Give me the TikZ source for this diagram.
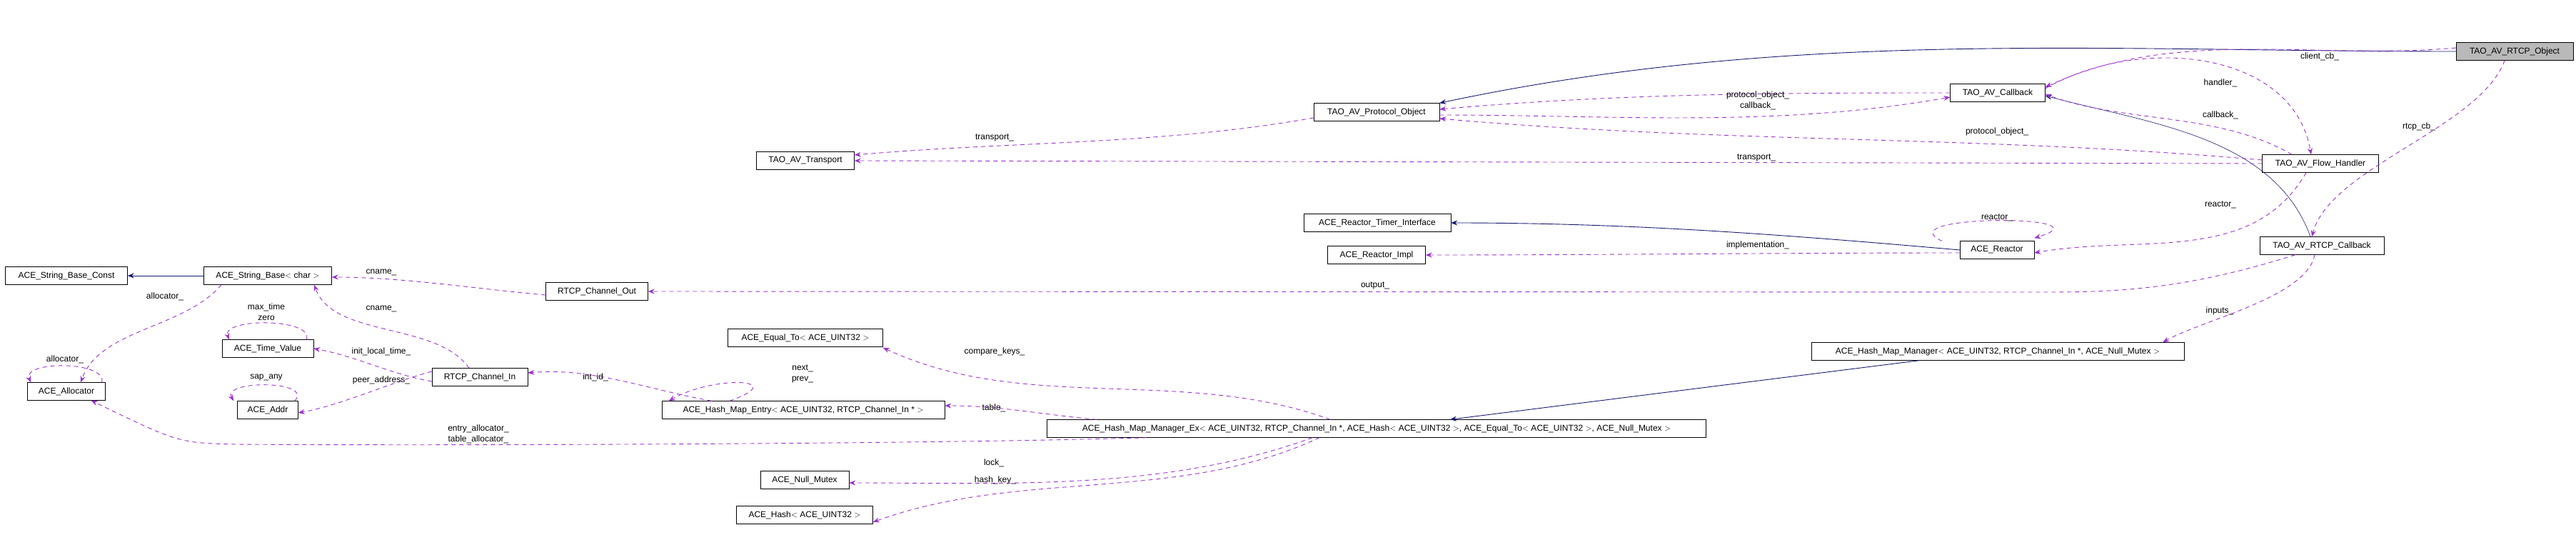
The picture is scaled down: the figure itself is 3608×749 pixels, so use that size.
\documentclass[tikz,border=0pt]{standalone}
\usepackage{fontspec}
\setmainfont{Liberation Sans}
\usetikzlibrary{arrows.meta}
\definecolor{navy}{HTML}{191970}
\definecolor{member}{HTML}{9A32CD}
\begin{document}
\begin{tikzpicture}[x=1pt,y=-1pt,>={Stealth[length=9pt,width=7pt]},
    cls node/.style={draw,rectangle,font=\fontsize{12}{13}\selectfont,inner sep=0pt,minimum height=25pt},
    main node/.style={cls node,fill=gray!55},
    inherit/.style={->,draw=navy,line width=0.9pt},
    use/.style={->,draw=member,line width=0.9pt,dash pattern=on 6pt off 5pt},
    lbl/.style={font=\fontsize{12}{15}\selectfont,inner sep=1pt,align=center}]
  \useasboundingbox (0,0) rectangle (3608,749);
  % classes
  \node[main node,minimum width=164pt] (rtcp) at (3522,72) {TAO\_AV\_RTCP\_Object};
  \node[cls node,minimum width=176pt] (proto) at (1928,157) {TAO\_AV\_Protocol\_Object};
  \node[cls node,minimum width=133pt] (cb) at (2798,130) {TAO\_AV\_Callback};
  \node[cls node,minimum width=137pt] (trans) at (1128,225) {TAO\_AV\_Transport};
  \node[cls node,minimum width=163pt] (fh) at (3250,229) {TAO\_AV\_Flow\_Handler};
  \node[cls node,minimum width=206pt] (timer) at (1929,312) {ACE\_Reactor\_Timer\_Interface};
  \node[cls node,minimum width=137pt] (impl) at (1928,357) {ACE\_Reactor\_Impl};
  \node[cls node,minimum width=104pt] (reactor) at (2797,350) {ACE\_Reactor};
  \node[cls node,minimum width=174pt] (rtcpcb) at (3252,344) {TAO\_AV\_RTCP\_Callback};
  \node[cls node,minimum width=171pt] (sconst) at (93,386) {ACE\_String\_Base\_Const};
  \node[cls node,minimum width=179pt] (sbase) at (375,386) {ACE\_String\_Base$<$ char $>$};
  \node[cls node,minimum width=143pt] (chout) at (836,408) {RTCP\_Channel\_Out};
  \node[cls node,minimum width=128pt] (tv) at (375,488) {ACE\_Time\_Value};
  \node[cls node,minimum width=109pt] (alloc) at (93,548) {ACE\_Allocator};
  \node[cls node,minimum width=85pt] (addr) at (375,574) {ACE\_Addr};
  \node[cls node,minimum width=134pt] (chin) at (672,528) {RTCP\_Channel\_In};
  \node[cls node,minimum width=396pt] (entry) at (1125,574) {ACE\_Hash\_Map\_Entry$<$ ACE\_UINT32, RTCP\_Channel\_In * $>$};
  \node[cls node,minimum width=217pt] (equal) at (1128,473) {ACE\_Equal\_To$<$ ACE\_UINT32 $>$};
  \node[cls node,minimum width=923pt] (hmex) at (1928,600) {ACE\_Hash\_Map\_Manager\_Ex$<$ ACE\_UINT32, RTCP\_Channel\_In *, ACE\_Hash$<$ ACE\_UINT32 $>$, ACE\_Equal\_To$<$ ACE\_UINT32 $>$, ACE\_Null\_Mutex $>$};
  \node[cls node,minimum width=124pt] (mutex) at (1127,672) {ACE\_Null\_Mutex};
  \node[cls node,minimum width=191pt] (hash) at (1127,721) {ACE\_Hash$<$ ACE\_UINT32 $>$};
  \node[cls node,minimum width=522pt] (hm) at (2798,492) {ACE\_Hash\_Map\_Manager$<$ ACE\_UINT32, RTCP\_Channel\_In *, ACE\_Null\_Mutex $>$};
  % inheritance
  \draw[inherit] (rtcp.west) .. controls +(180:500pt) and +(12:500pt) .. (proto.north east);
  \draw[inherit] (sbase) -- (sconst);
  \draw[inherit] (reactor.west) .. controls +(175:250pt) and +(0:250pt) .. (timer.east);
  \draw[inherit,line width=0.6pt] ([xshift=-16pt]rtcpcb.north) .. controls +(110:150pt) and +(-15:150pt) .. ([yshift=-4pt]cb.east);
  \draw[inherit] ([xshift=-110pt]hm.south) -- ([xshift=103pt]hmex.north);
  % members
  \draw[use] ([yshift=5pt]rtcp.west) .. controls +(185:200pt) and +(25:200pt) .. ([yshift=8pt]cb.east);
  \draw[use] ([xshift=-14pt]rtcp.south) .. controls +(250:100pt) and +(75:100pt) .. ([xshift=-14pt]rtcpcb.north);
  \draw[use] ([yshift=6pt]cb.east) .. controls +(30:150pt) and +(100:150pt) .. ([xshift=-13pt]fh.north);
  \draw[use] ([xshift=-40pt]fh.north) .. controls +(150:120pt) and +(-20:120pt) .. ([yshift=-2pt]cb.east);
  \draw[use] (cb.west) .. controls +(180:250pt) and +(5:250pt) .. ([yshift=4pt]proto.east);
  \draw[use] ([yshift=-4pt]proto.east) .. controls +(0:250pt) and +(190:250pt) .. ([yshift=-6pt]cb.west);
  \draw[use] ([yshift=5pt]fh.west) .. controls +(175:400pt) and +(-5:400pt) .. ([yshift=-9pt]proto.east);
  \draw[use] (fh.west) -- (trans.east);
  \draw[use] ([yshift=-8pt]proto.west) .. controls +(190:220pt) and +(5:220pt) .. ([yshift=8pt]trans.east);
  \draw[use] ([xshift=-20pt]fh.south) .. controls +(240:150pt) and +(10:150pt) .. ([yshift=-4pt]reactor.east);
  \draw[use] ([xshift=-25pt]reactor.north west) .. controls (2640,300) and (2960,300) .. ([yshift=4pt]reactor.north east);
  \draw[use] ([yshift=-4pt]reactor.west) .. controls +(180:250pt) and +(0:250pt) .. (impl.east);
  \draw[use] ([xshift=50pt]rtcpcb.south west) .. controls (3050,409) and (2950,409) .. (2850,409) -- (chout.east);
  \draw[use] ([xshift=-10pt]rtcpcb.south) .. controls +(260:60pt) and +(30:60pt) .. ([xshift=-30pt]hm.north east);
  \draw[use] ([xshift=-65pt]hmex.north) .. controls +(160:220pt) and +(-25:220pt) .. ([yshift=-1pt]equal.south east);
  \draw[use] ([xshift=70pt]hmex.north west) .. controls +(175:80pt) and +(0:80pt) .. ([yshift=6pt]entry.east);
  \draw[use] ([xshift=140pt]hmex.south west) .. controls (1300,622) and (600,624) .. (330,622) .. controls (250,620) .. ([xshift=-20pt]alloc.south east);
  \draw[use] ([xshift=-90pt]hmex.south) .. controls +(200:220pt) and +(0:220pt) .. ([yshift=-4pt]mutex.east);
  \draw[use] ([xshift=-80pt]hmex.south) .. controls +(205:220pt) and +(20:220pt) .. ([yshift=-10pt]hash.east);
  \draw[use] ([xshift=70pt]entry.north west) .. controls +(170:90pt) and +(5:90pt) .. ([yshift=6pt]chin.east);
  \draw[use] ([xshift=95pt]entry.north west) .. controls (1110,530) and (1000,525) .. ([xshift=10pt]entry.north west);
  \draw[use] ([yshift=-6pt]chin.west) .. controls +(170:60pt) and +(-10:60pt) .. (tv.east);
  \draw[use] ([yshift=8pt]chin.west) .. controls +(195:60pt) and +(10:60pt) .. ([yshift=-4pt]addr.east);
  \draw[use] ([xshift=-15pt]chin.north) .. controls +(125:80pt) and +(-70:80pt) .. ([xshift=65pt]sbase.south);
  \draw[use] ([yshift=-5pt]chout.west) .. controls +(175:100pt) and +(0:100pt) .. ([yshift=-2pt]sbase.east);
  \draw[use] ([xshift=-65pt]sbase.south) .. controls +(230:80pt) and +(70:80pt) .. ([xshift=20pt]alloc.north);
  \draw[use] ([xshift=-5pt]alloc.north east) .. controls (150,505) and (30,505) .. ([xshift=5pt]alloc.north west);
  \draw[use] ([xshift=-10pt]tv.north east) .. controls (440,445) and (310,445) .. ([xshift=10pt]tv.north west);
  \draw[use] ([xshift=-5pt]addr.north east) .. controls (440,532) and (310,532) .. ([xshift=-5pt]addr.north west);
  % labels
  \node[lbl] (l1) at (3249,79) {client\_cb\_};
  \node[lbl] (l2) at (3388,177) {rtcp\_cb\_};
  \node[lbl] (l3) at (3110,116) {handler\_};
  \node[lbl] (l4) at (3110,161) {callback\_};
  \node[lbl] (l5) at (2462,133) {protocol\_object\_};
  \node[lbl] (l6) at (2462,148) {callback\_};
  \node[lbl] (l7) at (2797,184) {protocol\_object\_};
  \node[lbl] (l8) at (2460,221) {transport\_};
  \node[lbl] (l9) at (1393,193) {transport\_};
  \node[lbl] (l10) at (3110,287) {reactor\_};
  \node[lbl] (l11) at (2797,305) {reactor\_};
  \node[lbl] (l12) at (2462,343) {implementation\_};
  \node[lbl] (l13) at (1926,400) {output\_};
  \node[lbl] (l14) at (3109,435) {inputs\_};
  \node[lbl] (l15) at (1393,492) {compare\_keys\_};
  \node[lbl] (l16) at (1392,571) {table\_};
  \node[lbl] (l17) at (1392,648) {lock\_};
  \node[lbl] (l18) at (1394,672) {hash\_key\_};
  \node[lbl] (l19) at (670,608) {entry\_allocator\_\\table\_allocator\_};
  \node[lbl] (l20) at (834,528) {int\_id\_};
  \node[lbl] (l21) at (1124,523) {next\_\\prev\_};
  \node[lbl] (l22) at (534,492) {init\_local\_time\_};
  \node[lbl] (l23) at (534,532) {peer\_address\_};
  \node[lbl] (l24) at (534,432) {cname\_};
  \node[lbl] (l25) at (534,381) {cname\_};
  \node[lbl] (l26) at (231,415) {allocator\_};
  \node[lbl] (l27) at (91,503) {allocator\_};
  \node[lbl] (l28) at (373,437) {max\_time\\zero};
  \node[lbl] (l29) at (373,529) {sap\_any};
\end{tikzpicture}
\end{document}
